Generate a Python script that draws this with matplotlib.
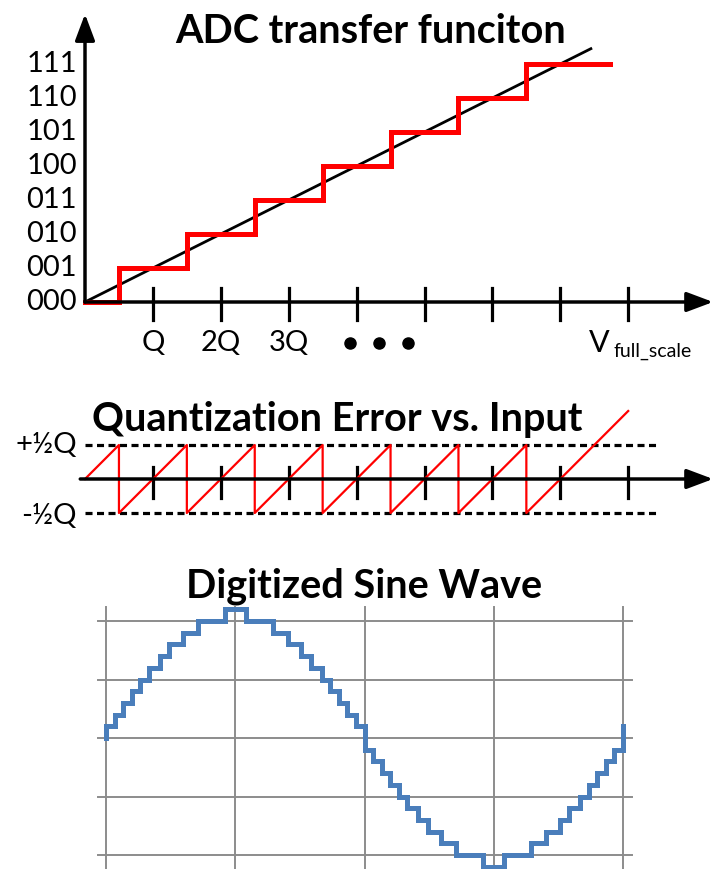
import matplotlib
matplotlib.use('Agg')
import matplotlib.pyplot as plt

plt.rcParams['font.family'] = ['Lato', 'DejaVu Sans']

# --- data ---
# ADC transfer function (x in units of Q, y in output codes)
codes = ['000', '001', '010', '011', '100', '101', '110', '111']
adc_steps = [0, 0.5, 1.5, 2.5, 3.5, 4.5, 5.5, 6.5, 7.73]
adc_levels = [0, 1, 2, 3, 4, 5, 6, 7, 7]
ideal_end = 7.45
x_ticks = [1, 2, 3, 4, 5, 6, 7, 8]
x_labels = ['Q', '2Q', '3Q']
ellipsis_x = [3.9, 4.33, 4.76]
err_end = 8.0

# digitized sine (x in grid divisions, y in quantization levels)
sine_x = [0, 0, 0.069, 0.132, 0.201, 0.265, 0.332, 0.414, 0.491, 0.594, 0.708,
          0.920, 1.080, 1.292, 1.406, 1.509, 1.586, 1.668, 1.735, 1.799, 1.868,
          1.931, 2.000, 2.069, 2.132, 2.201, 2.265, 2.332, 2.414, 2.491, 2.594,
          2.708, 2.920, 3.080, 3.292, 3.406, 3.509, 3.586, 3.668, 3.735, 3.799,
          3.868, 3.931, 4.000]
sine_y = [0, 1, 2, 3, 4, 5, 6, 7, 8, 9, 10,
          11, 10, 9, 8, 7, 6, 5, 4, 3, 2,
          1, -1, -2, -3, -4, -5, -6, -7, -8, -9,
          -10, -11, -10, -9, -8, -7, -6, -5, -4, -3,
          -2, -1, 1]
grid_x = [0, 1, 2, 3, 4]
grid_y = [-10, -5, 0, 5, 10]

W, H = 715, 869
fig = plt.figure(figsize=(W / 100, H / 100), dpi=100)


def panel(py0, py1, x0px, xscale, y0py, yscale):
    # axes spanning full width, data origin at pixel (x0px, y0py)
    ax = fig.add_axes([0, 1 - py1 / H, 1, (py1 - py0) / H])
    ax.set_xlim(-x0px / xscale, (W - x0px) / xscale)
    ax.set_ylim((y0py - py1) / yscale, (y0py - py0) / yscale)
    ax.axis('off')
    return ax


def arrow(ax, start, tip):
    ax.annotate('', xy=tip, xytext=start,
                arrowprops=dict(arrowstyle='-|>,head_length=0.8,head_width=0.3',
                                mutation_scale=20, lw=2.5, color='black',
                                shrinkA=0, shrinkB=0))


# ---------------- top: ADC transfer function ----------------
ax1 = panel(0, 372, 85, 67.9, 302, 34)
arrow(ax1, (0, 0), (9.25, 0))
arrow(ax1, (0, 0), (0, 8.47))
for t in x_ticks:
    ax1.plot([t, t], [0.41, -0.53], color='black', lw=2.3)
ax1.plot([0, ideal_end], [0, ideal_end], color='black', lw=2)
ax1.step(adc_steps, adc_levels, where='post', color='#ff0000', lw=3.6,
         solid_joinstyle='miter')
for i, c in enumerate(codes):
    ax1.text(-0.12, i, c, ha='right', va='center', fontsize=21)
for t, lab in zip(x_ticks, x_labels):
    ax1.text(t, -1.2, lab, ha='center', va='center', fontsize=21)
ax1.plot(ellipsis_x, [-1.2] * 3, 'o', color='black', ms=8)
ax1.text(7.42, -1.47, 'V', ha='left', va='baseline', fontsize=22)
ax1.text(7.79, -1.62, 'full_scale', ha='left', va='baseline', fontsize=14)
ax1.text(4.2, 7.95, 'ADC transfer funciton', ha='center', va='center',
         fontsize=28.5, fontweight='bold')

# ---------------- middle: quantization error ----------------
ax2 = panel(372, 540, 85, 67.9, 479, 68)
arrow(ax2, (-0.07, 0), (9.25, 0))
for t in x_ticks:
    ax2.plot([t, t], [0.18, -0.28], color='black', lw=2.3)
for lvl in (0.5, -0.5):
    ax2.plot([0, 8.42], [lvl, lvl], color='black', lw=2.3,
             linestyle=(0, (2.2, 1.4)))
err_x, err_y = [0], [0]
for s, lv in zip(adc_steps[1:-1], adc_levels[1:-1]):
    err_x += [s, s]
    err_y += [s - (lv - 1), s - lv]
err_x.append(err_end)
err_y.append(err_end - adc_levels[-1])
ax2.plot(err_x, err_y, color='#ff0000', lw=1.6)
ax2.text(-0.12, 0.5, '+½Q', ha='right', va='center', fontsize=21)
ax2.text(-0.12, -0.55, '-½Q', ha='right', va='center', fontsize=21)
ax2.text(3.72, 0.88, 'Quantization Error vs. Input', ha='center', va='center',
         fontsize=28.5, fontweight='bold')

# ---------------- bottom: digitized sine wave ----------------
ax3 = panel(540, 869, 106, 129.25, 738, 11.7)
for gx in grid_x:
    ax3.plot([gx, gx], [11.2, -12], color='#8c8c8c', lw=1.4)
for gy in grid_y:
    ax3.plot([-0.062, 4.07], [gy, gy], color='#8c8c8c', lw=1.4)
ax3.step(sine_x, sine_y, where='post', color='#4a7ebb', lw=3.6,
         solid_joinstyle='miter', clip_on=False)
ax3.text(2.0, 13.0, 'Digitized Sine Wave', ha='center', va='center',
         fontsize=28.5, fontweight='bold')

fig.savefig('out.png', dpi=100)
